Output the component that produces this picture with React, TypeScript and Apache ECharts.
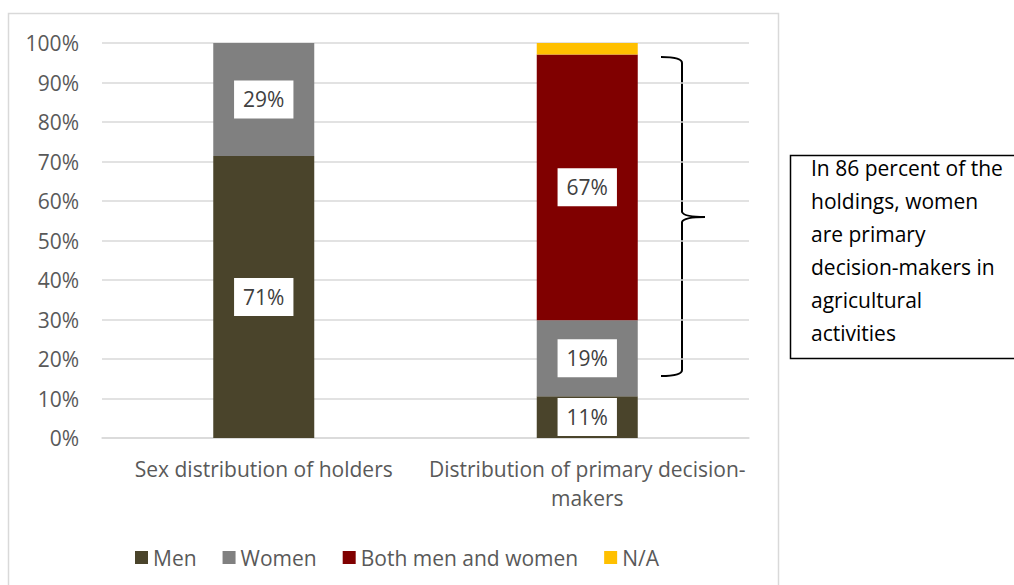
import React, { useEffect, useRef } from "react";
import * as echarts from "echarts";

const categories = ["Sex distribution of holders", "Distribution of primary decision-makers"];
const seriesNames = ["Men", "Women", "Both men and women", "N/A"];
const menValues = [71.4, 10.6];
const womenValues = [28.6, 19.2];
const bothValues = [null, 67.3];
const naValues = [null, 2.9];
const yTicks = [0, 10, 20, 30, 40, 50, 60, 70, 80, 90, 100];
const noteLines = [
  "In 86 percent of the",
  "holdings, women",
  "are primary",
  "decision-makers in",
  "agricultural",
  "activities",
];

const colors = ["#4a442b", "#808080", "#800000", "#ffc000"];
const FONT = "Open Sans";

let braceRegistered = false;

export default function App() {
  const ref = useRef<HTMLDivElement>(null);
  useEffect(() => {
    if (!ref.current) return;
    if (!braceRegistered) {
      const d =
        "M661,57 Q682,57 682,63 L682,212 Q684,217 705,217 Q684,217 682,222 L682,370 Q682,376 661,376";
      echarts.graphic.registerShape("brace", echarts.graphic.extendPath(d, {}) as any);
      braceRegistered = true;
    }
    const chart = echarts.init(ref.current, null, { renderer: "svg" });
    const valueSets = [menValues, womenValues, bothValues, naValues];
    const labelStyle = {
      show: true,
      position: "inside",
      backgroundColor: "#ffffff",
      color: "#404040",
      fontFamily: FONT,
      fontSize: 21,
      lineHeight: 21,
      padding: [9, 9, 8, 9],
      formatter: (p: any) => (p.value == null ? "" : Math.round(p.value) + "%"),
    };
    const series = seriesNames.map((name, i) => ({
      name,
      type: "bar",
      stack: "total",
      barWidth: 101,
      itemStyle: { color: colors[i] },
      label: i === 3 ? { show: false } : labelStyle,
      data: valueSets[i].map((v) =>
        v == null ? { value: null, label: { show: false } } : v
      ),
    }));
    chart.setOption({
      animation: false,
      textStyle: { fontFamily: FONT },
      grid: { left: 102, right: 265, top: 43, bottom: 147, containLabel: false },
      xAxis: {
        type: "category",
        data: categories,
        axisLine: { show: true, lineStyle: { color: "#d9d9d9", width: 1.5 } },
        axisTick: { show: false },
        axisLabel: {
          color: "#595959",
          fontFamily: FONT,
          fontSize: 21,
          lineHeight: 29,
          margin: 16,
          interval: 0,
          formatter: (v: string) => v.replace("decision-", "decision-\n"),
        },
      },
      yAxis: {
        type: "value",
        min: yTicks[0],
        max: yTicks[yTicks.length - 1],
        interval: yTicks[1] - yTicks[0],
        axisLine: { show: false },
        axisTick: { show: false },
        splitLine: { lineStyle: { color: "#d9d9d9", width: 1.5 } },
        axisLabel: {
          color: "#595959",
          fontFamily: FONT,
          fontSize: 21,
          margin: 23,
          formatter: (v: number) => v + "%",
        },
      },
      legend: {
        data: seriesNames,
        left: 130,
        top: 542,
        icon: "rect",
        itemWidth: 13,
        itemHeight: 13,
        itemGap: 26,
        textStyle: { color: "#595959", fontFamily: FONT, fontSize: 21, padding: [0, 0, 0, 0] },
      },
      graphic: [
        {
          type: "rect",
          shape: { x: 8.5, y: 13.5, width: 770, height: 700 },
          style: { fill: "none", stroke: "#d9d9d9", lineWidth: 1.5 },
          silent: true,
          z: -1,
        },
        {
          type: "brace",
          x: 0,
          y: 0,
          scaleX: 1,
          scaleY: 1,
          style: { fill: "none", stroke: "#000000", lineWidth: 2 },
          silent: true,
        },
        {
          type: "rect",
          shape: { x: 790.5, y: 155.5, width: 300, height: 203 },
          style: { fill: "#ffffff", stroke: "#000000", lineWidth: 1.5 },
          silent: true,
        },
        ...noteLines.map((t, i) => ({
          type: "text",
          x: 811,
          y: 168 + i * 33,
          style: {
            text: t,
            fill: "#000000",
            font: `21px "${FONT}"`,
            textVerticalAlign: "middle",
            verticalAlign: "middle",
          },
          silent: true,
        })),
      ],
      series,
    } as any);
    return () => chart.dispose();
  }, []);
  return (
    <div
      ref={ref}
      style={{ position: "absolute", left: 0, top: 0, width: 1014, height: 585 }}
    />
  );
}
